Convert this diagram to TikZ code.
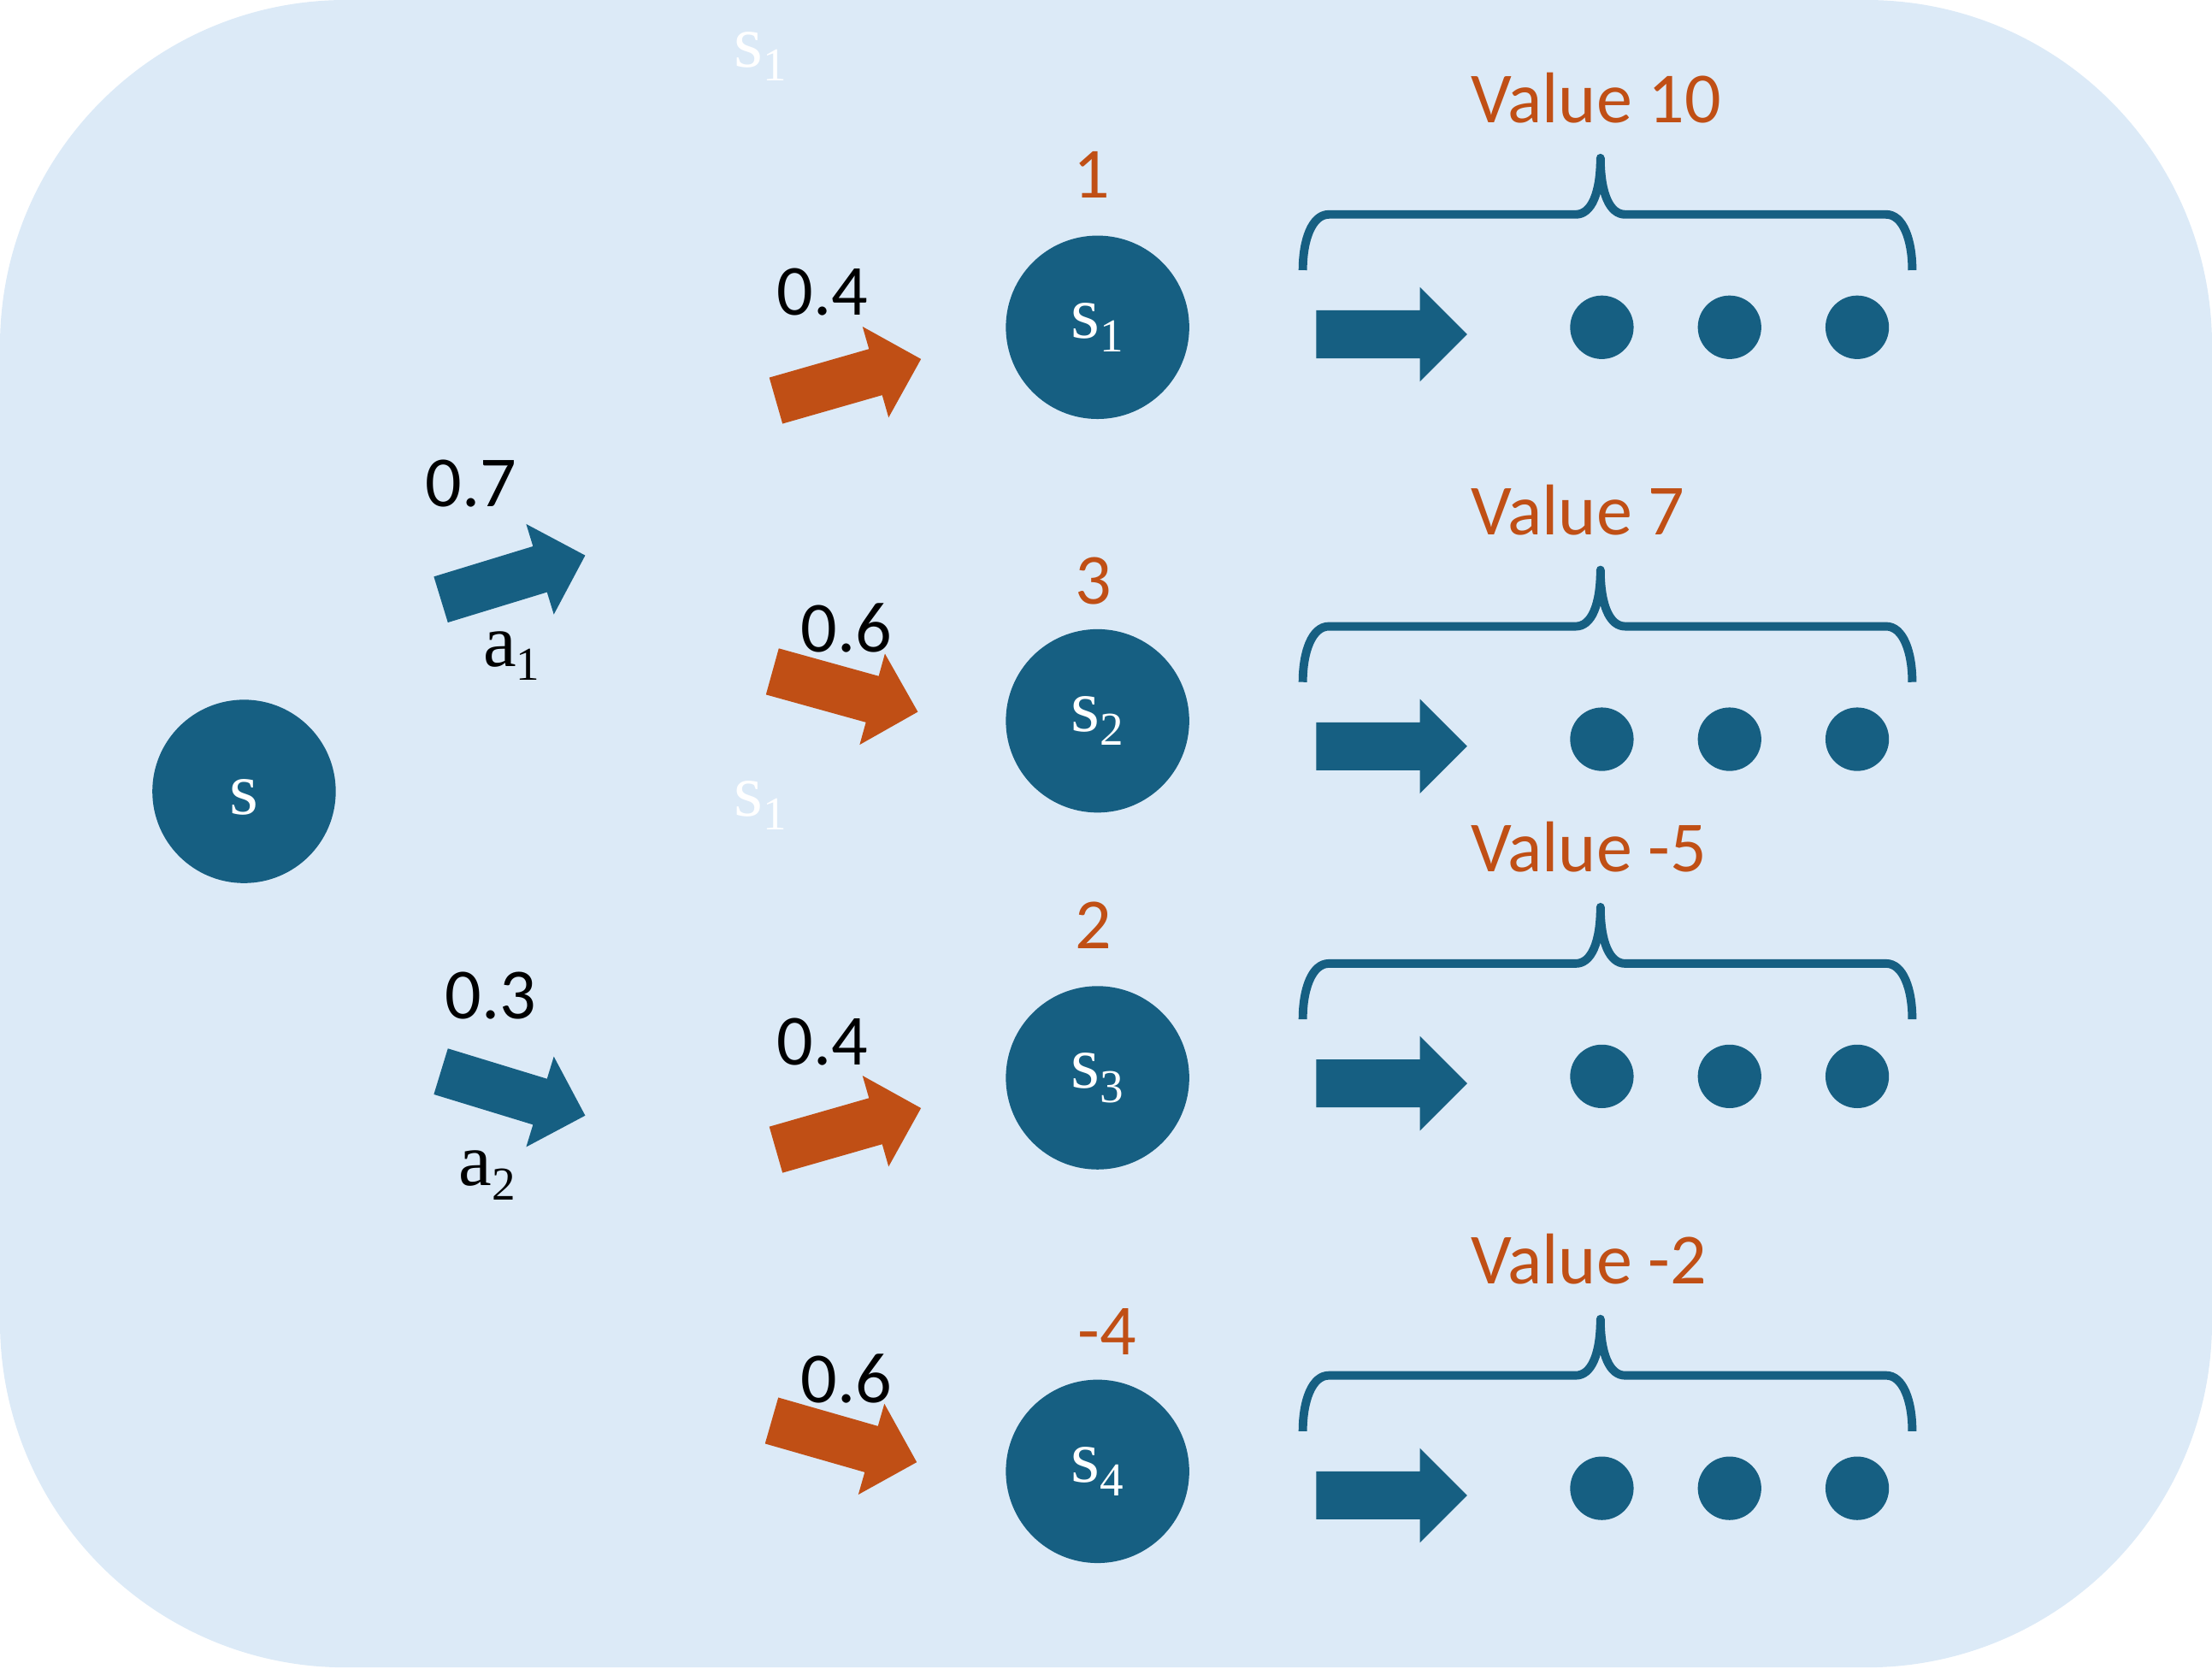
\documentclass[tikz,border=0pt]{standalone}
\usepackage{fontspec}
\setmainfont{Carlito}
\newfontfamily\serf{Liberation Serif}
\usepackage{tikz}
\usetikzlibrary{shapes.arrows}
\definecolor{bgblue}{RGB}{220,234,247}
\definecolor{stblue}{RGB}{22,95,130}
\definecolor{rorange}{RGB}{192,79,21}
\tikzset{stnode/.style={circle,fill=stblue,text=white,minimum size=1.3cm,inner sep=0pt}}
\tikzset{dotnode/.style={circle,fill=stblue,minimum size=0.45cm,inner sep=0pt}}
\tikzset{blockarr/.style={single arrow,minimum height=1.07cm,minimum width=0pt,inner xsep=0pt,inner ysep=0.163cm,single arrow head extend=0.165cm,outer sep=0pt,anchor=tail}}
\tikzset{prob/.style={inner sep=0pt,font=\fontsize{14.5}{17}\selectfont}}
\tikzset{rew/.style={prob,text=rorange}}
\tikzset{brace/.style={draw=stblue,line width=0.06cm,line join=round}}
\newcommand{\Snm}[2]{{\serf\fontsize{15}{15}\selectfont #1\raisebox{-0.1cm}{\fontsize{9.5}{9.5}\selectfont #2}}}

\begin{document}
\begin{tikzpicture}[x=1cm,y=-1cm]
\useasboundingbox (0,0) rectangle (15.68,11.83);
\fill[bgblue,rounded corners=2.45cm] (0,0) rectangle (15.68,11.82);
% states
\node (s) [stnode] at (1.73,5.61) {{\serf\fontsize{15}{15}\selectfont\raisebox{-0.04cm}[0.24cm][0pt]{s}}};
\node (s1) [stnode] at (7.78,2.32) {\Snm{s}{1}};
\node (s2) [stnode] at (7.78,5.11) {\Snm{s}{2}};
\node (s3) [stnode] at (7.78,7.64) {\Snm{s}{3}};
\node (s4) [stnode] at (7.78,10.43) {\Snm{s}{4}};
\node (ghost1) [inner sep=0pt,text=white] at (5.39,0.40) {\Snm{s}{1}};
\node (ghost2) [inner sep=0pt,text=white] at (5.39,5.71) {\Snm{s}{1}};
% actions
\node (act1) [blockarr,fill=stblue,rotate=17] at (3.125,4.25) {};
\node (act2) [blockarr,fill=stblue,rotate=-17] at (3.125,7.595) {};
\node (p1) [prob] at (3.34,3.43) {0.7};
\node (p2) [prob] at (3.48,7.06) {0.3};
\node (a1) [inner sep=0pt] at (3.625,4.65) {\Snm{a}{1}};
\node (a2) [inner sep=0pt] at (3.455,8.33) {\Snm{a}{2}};
% transitions
\node (t1) [blockarr,fill=rorange,rotate=16] at (5.50,2.84) {};
\node (t2) [blockarr,fill=rorange,rotate=-15.5] at (5.475,4.76) {};
\node (t3) [blockarr,fill=rorange,rotate=16] at (5.50,8.15) {};
\node (t4) [blockarr,fill=rorange,rotate=-16] at (5.47,10.07) {};
\node (q1) [prob] at (5.83,2.07) {0.4};
\node (q2) [prob] at (6.00,4.45) {0.6};
\node (q3) [prob] at (5.83,7.385) {0.4};
\node (q4) [prob] at (6.00,9.77) {0.6};
% rewards
\node (r1) [rew] at (7.74,1.24) {1};
\node (r2) [rew] at (7.75,4.12) {3};
\node (r3) [rew] at (7.75,6.56) {2};
\node (r4) [rew] at (7.85,9.44) {-4};
% continuations
\foreach \i/\d/\v in {1/2.32/10,2/5.24/7,3/7.63/-5,4/10.55/-2} {
  \node (val\i) [rew,anchor=west] at (10.42,\d-1.625) {Value \v};
  \draw[brace] (9.235,\d-0.405) .. controls (9.235,\d-0.62) and (9.30,\d-0.80) .. (9.42,\d-0.80)
    -- (11.17,\d-0.80) .. controls (11.28,\d-0.80) and (11.345,\d-0.95) .. (11.345,\d-1.20)
    .. controls (11.345,\d-0.95) and (11.41,\d-0.80) .. (11.52,\d-0.80)
    -- (13.37,\d-0.80) .. controls (13.49,\d-0.80) and (13.555,\d-0.62) .. (13.555,\d-0.405);
  \node (go\i) [blockarr,fill=stblue] at (9.33,\d+0.05) {};
  \node (dot\i-1) [dotnode] at (11.355,\d) {};
  \node (dot\i-2) [dotnode] at (12.26,\d) {};
  \node (dot\i-3) [dotnode] at (13.165,\d) {};
}
\end{tikzpicture}
\end{document}
